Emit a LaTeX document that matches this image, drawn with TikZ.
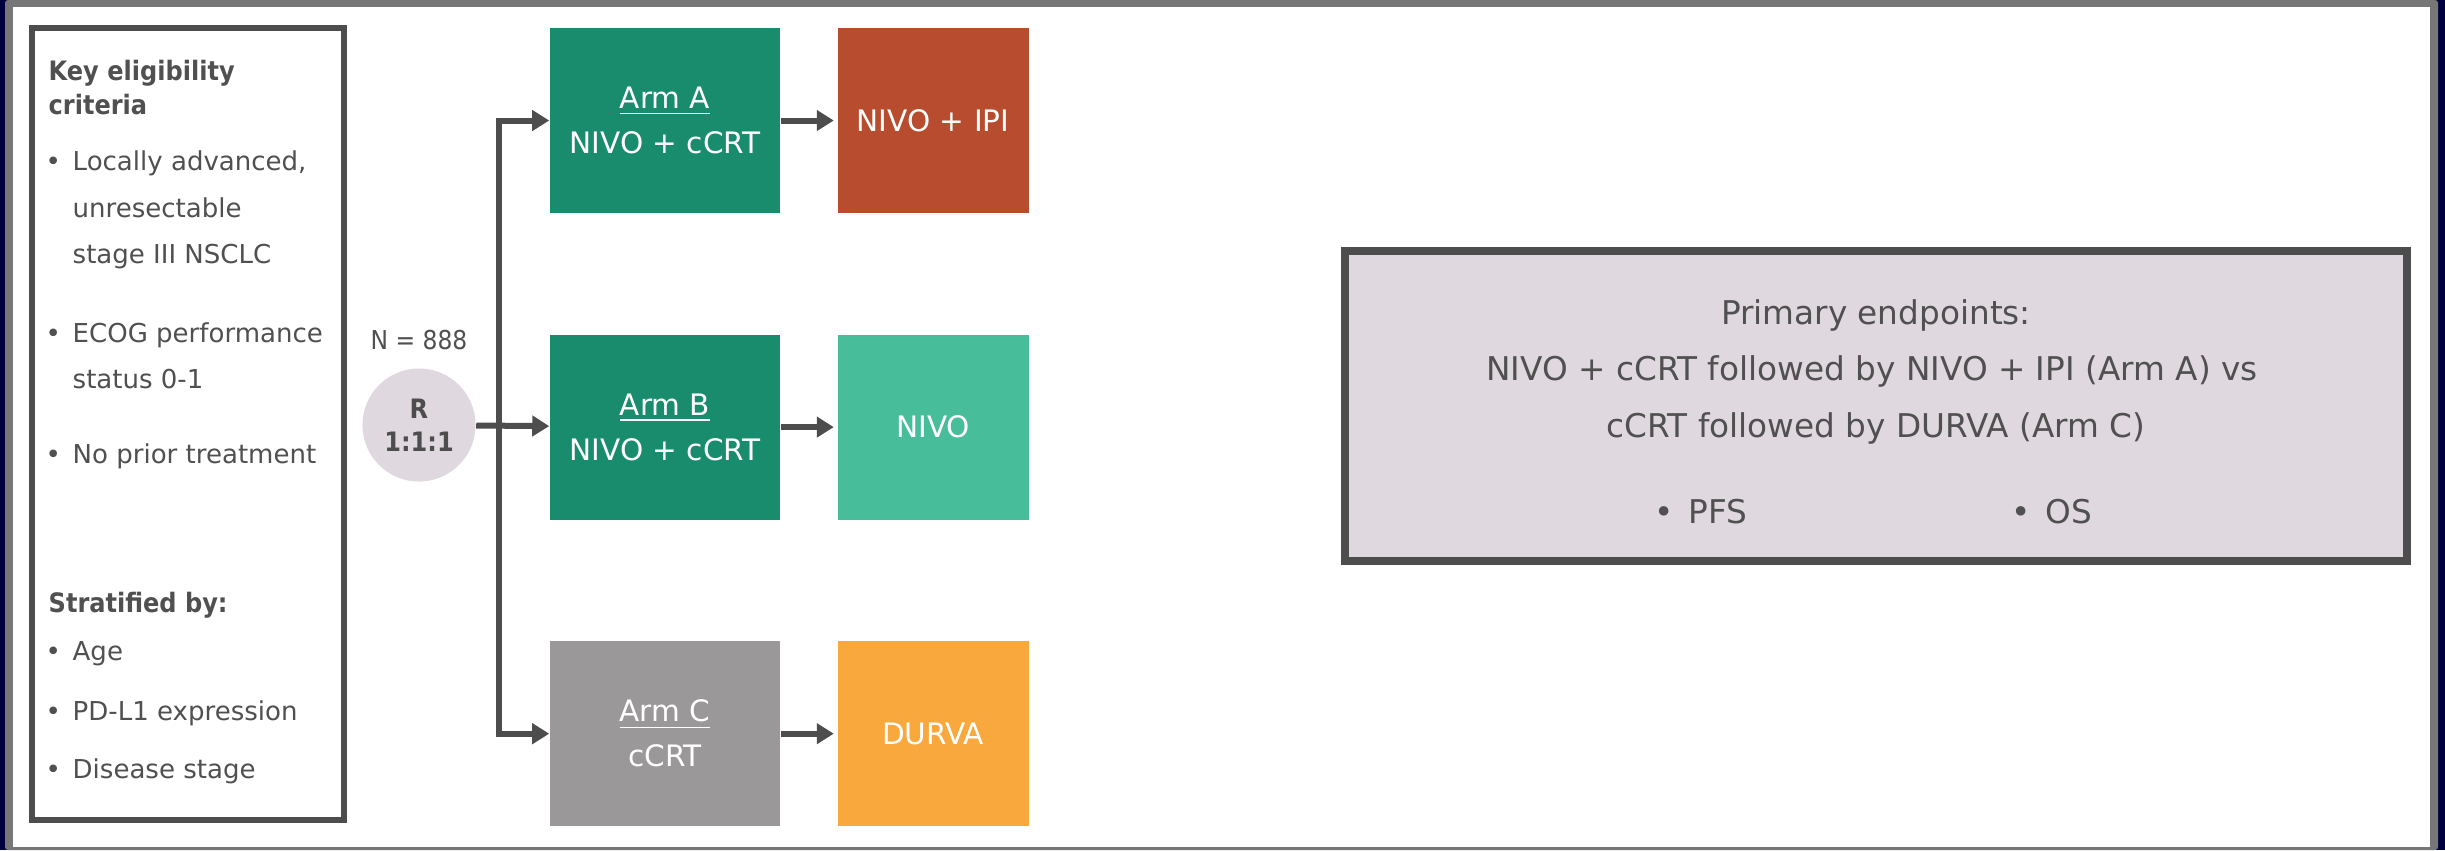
\documentclass[tikz,border=0pt]{standalone}
\usepackage{fontspec}
\setmainfont{DejaVu Sans}
\newfontfamily\narrowfont{DejaVu Sans}[FakeStretch=0.9]
\usepackage{tikz}
\usetikzlibrary{arrows.meta, positioning, calc}
\definecolor{navy}{HTML}{00003F}
\definecolor{framegray}{HTML}{777777}
\definecolor{linegray}{HTML}{4D4D4D}
\definecolor{textgray}{HTML}{505050}
\definecolor{armgreen}{HTML}{1A8C6E}
\definecolor{nivogreen}{HTML}{48BD9A}
\definecolor{ipirust}{HTML}{B84C2E}
\definecolor{durvaorange}{HTML}{F8A83C}
\definecolor{ctrlgray}{HTML}{9B9899}
\definecolor{mauve}{HTML}{E0D8DF}
\newcommand{\critdot}{\llap{•\kern0.45em}}

\begin{document}
\begin{tikzpicture}[
    x=0.01cm, y=-0.01cm,
    armbox/.style={rectangle, minimum width=2.3cm, minimum height=1.85cm, inner sep=0pt, text=white, align=center, font=\fontsize{8.4}{12.8}\selectfont},
    drugbox/.style={armbox, minimum width=1.91cm},
    randnode/.style={circle, fill=mauve, minimum size=1.13cm, inner sep=0pt, text=linegray, align=center, font=\narrowfont\bfseries\fontsize{7.6}{9.4}\selectfont},
    crittext/.style={anchor=base west, inner sep=0pt, text=textgray, font=\fontsize{7.4}{9}\selectfont},
    crithead/.style={crittext, font=\narrowfont\bfseries\fontsize{7.6}{9}\selectfont},
    eptext/.style={anchor=base, inner sep=0pt, text=textgray, font=\fontsize{9.3}{11}\selectfont},
    arr/.style={-{Triangle[length=0.17cm, width=0.2cm]}, line width=0.06cm, linegray},
  ]
  \useasboundingbox (0,0) rectangle (2445,850);
  % Frame
  \fill[navy] (0,0) rectangle (2445,850);
  \fill[framegray, rounded corners=0.03cm] (5,0) rectangle (2438,850);
  \fill[white] (13,7) rectangle (2430,847);

  % Eligibility box
  \node[draw=linegray, line width=0.06cm, minimum width=3.12cm, minimum height=7.92cm, inner sep=0pt] (crit) at (188,424) {};
  \node[crithead] (kh1) at (48,80) {Key eligibility};
  \node[crithead] (kh2) at (48,114) {criteria};
  \node[crittext] (c1) at (72,170) {\critdot Locally advanced,};
  \node[crittext] (c2) at (72,217) {unresectable};
  \node[crittext] (c3) at (72,263) {stage III NSCLC};
  \node[crittext] (c4) at (72,342) {\critdot ECOG performance};
  \node[crittext] (c5) at (72,388) {status 0-1};
  \node[crittext] (c6) at (72,463) {\critdot No prior treatment};
  \node[crithead] (sh) at (48,612) {Stratified by:};
  \node[crittext] (s1) at (72,660) {\critdot Age};
  \node[crittext] (s2) at (72,720) {\critdot PD-L1 expression};
  \node[crittext] (s3) at (72,778) {\critdot Disease stage};

  % Randomisation
  \node[randnode] (rand) at (419,425) {R\\1:1:1};
  \node[above=0.17cm of rand, inner sep=0pt, text=textgray, font=\narrowfont\fontsize{7.4}{9}\selectfont] (nlab) {N = 888};

  % Arms
  \node[armbox, fill=armgreen] (armA) at (665,120.5) {\underline{Arm A}\\NIVO + cCRT};
  \node[armbox, fill=armgreen, below=1.2cm of armA] (armB) {\underline{Arm B}\\NIVO + cCRT};
  \node[armbox, fill=ctrlgray, below=1.2cm of armB] (armC) {\underline{Arm C}\\cCRT};
  \node[drugbox, fill=ipirust, right=0.56cm of armA] (ipi) {NIVO + IPI};
  \node[drugbox, fill=nivogreen, right=0.56cm of armB] (nivo) {NIVO};
  \node[drugbox, fill=durvaorange, right=0.56cm of armC] (durva) {DURVA};

  % Connectors
  \coordinate (split) at ([xshift=-0.5cm]armB.west);
  \draw[arr] (rand) -- (armB);
  \draw[arr] (split) |- (armA);
  \draw[arr] (split) |- (armC);
  \draw[arr, shorten >=0.03cm] (armA) -- (ipi);
  \draw[arr, shorten >=0.03cm] (armB) -- (nivo);
  \draw[arr, shorten >=0.03cm] (armC) -- (durva);

  % Endpoints
  \node[draw=linegray, fill=mauve, line width=0.08cm, minimum width=10.62cm, minimum height=3.1cm, inner sep=0pt] (ep) at (1876,406) {};
  \node[eptext] (ep1) at (1876,324) {Primary endpoints:};
  \node[eptext] (ep2) at (1872,380) {NIVO + cCRT followed by NIVO + IPI (Arm A) vs};
  \node[eptext] (ep3) at (1876,437) {cCRT followed by DURVA (Arm C)};
  \node[eptext, anchor=base west] (pfs) at (1688,523) {\critdot PFS};
  \node[eptext, anchor=base west] (os) at (2045,523) {\critdot OS};
\end{tikzpicture}
\end{document}
